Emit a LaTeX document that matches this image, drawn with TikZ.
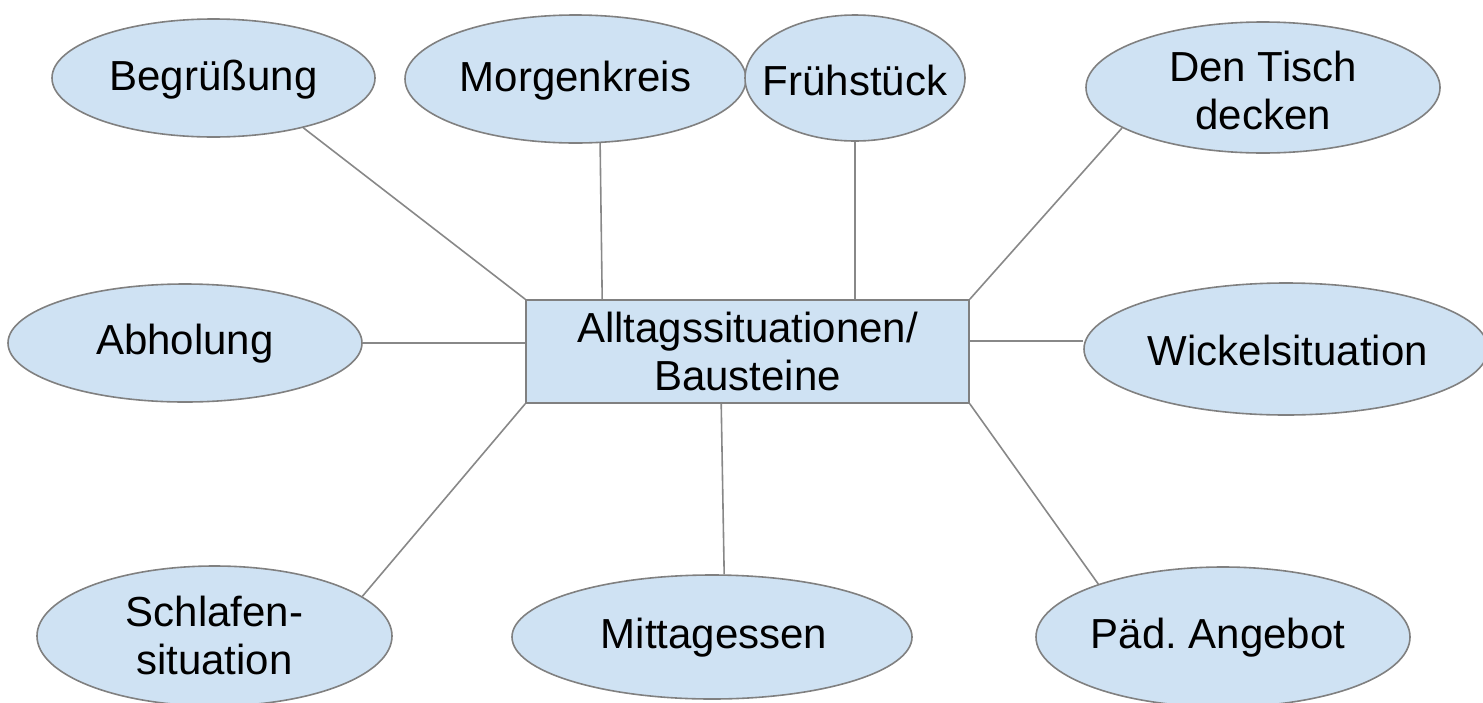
\documentclass[tikz,border=0pt]{standalone}
\usepackage{fontspec}
\setmainfont{Liberation Sans}
\usetikzlibrary{shapes.geometric,backgrounds}
\definecolor{fillblue}{HTML}{CFE2F3}
\definecolor{edgegray}{HTML}{808080}
\definecolor{linkgray}{HTML}{888888}
\frenchspacing
\begin{document}
\begin{tikzpicture}[x=1pt,y=-1pt,
  oval/.style={ellipse, draw=edgegray, fill=fillblue, line width=1.6pt, inner sep=0pt},
  hub/.style={rectangle, draw=edgegray, fill=fillblue, line width=1.6pt, inner sep=0pt},
  lbl/.style={font=\fontsize{42}{48}\selectfont, align=center, inner sep=0pt},
  link/.style={draw=linkgray, line width=1.6pt}]
\useasboundingbox[clip] (0,0) rectangle (1483,702);

\node[hub, minimum width=443pt, minimum height=103pt] (box) at (747.5,351.5) {};
\node[lbl] at (747.5,351.5) {Alltagssituationen/\\Bausteine};

\node[oval, minimum width=323pt, minimum height=118pt] (beg) at (213.5,78) {};
\node[lbl] at (213.5,80) {Begrüßung};
\node[oval, minimum width=341pt, minimum height=128pt] (morg) at (575.5,79) {};
\node[lbl] at (575.5,81) {Morgenkreis};
\node[oval, minimum width=220pt, minimum height=126pt] (frueh) at (855,78) {};
\node[lbl] at (855,80) {Frühstück};
\node[oval, minimum width=354pt, minimum height=131pt] (tisch) at (1263,87.5) {};
\node[lbl] at (1263,90.5) {Den Tisch\\decken};
\node[oval, minimum width=354pt, minimum height=118pt] (abh) at (185,343) {};
\node[lbl] at (185,344) {Abholung};
\node[oval, minimum width=404pt, minimum height=132pt] (wick) at (1286,349) {};
\node[lbl] at (1288,350) {Wickelsituation};
\node[oval, minimum width=355pt, minimum height=140pt] (schl) at (214.5,636) {};
\node[lbl] at (214.5,635.5) {Schlafen-\\situation};
\node[oval, minimum width=400pt, minimum height=124pt] (mitt) at (712,637) {};
\node[lbl] at (714,638) {Mittagessen};
\node[oval, minimum width=374pt, minimum height=140pt] (paed) at (1223,637) {};
\node[lbl] at (1218,638) {Päd. Angebot};

\begin{scope}[on background layer]
\draw[link] (beg.-29) -- (box.north west);
\draw[link] (morg.-69) -- ([xshift=77pt]box.north west);
\draw[link] (frueh.south) -- (frueh.south |- box.north);
\draw[link] (tisch.196) -- (box.north east);
\draw[link] (abh.east) -- (abh.east -| box.west);
\draw[link] ([yshift=10.5pt]box.east) -- ([yshift=10.5pt]box.east -| wick.west);
\draw[link] (schl.15) -- (box.south west);
\draw[link] ([xshift=196pt]box.south west) -- (mitt.79);
\draw[link] (box.south east) -- (paed.157);
\end{scope}
\end{tikzpicture}
\end{document}
